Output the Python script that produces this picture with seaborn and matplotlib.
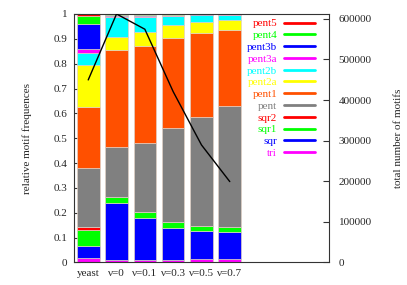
# coding: utf-8

import numpy as np
import pandas as pd
import matplotlib
matplotlib.use('Agg')
import matplotlib.pyplot as plt
import seaborn as sns

# Data

datasets = ['yeast', 'ν=0', 'ν=0.1', 'ν=0.3', 'ν=0.5', 'ν=0.7']

motifs = ['tri', 'sqr', 'sqr1', 'sqr2', 'pent', 'pent1',
          'pent2a', 'pent2b', 'pent3a', 'pent3b', 'pent4', 'pent5']

colors = ['#ff00ff', '#0000ff', '#00ff00', '#ff0000', '#808080', '#ff5000',
          '#ffff00', '#00ffff', '#ff00ff', '#0000ff', '#00ff00', '#ff0000']

# cumulative tops of each stacked segment
tri = [0.018, 0.008, 0.010, 0.012, 0.013, 0.015]
sqr = [0.067, 0.240, 0.177, 0.139, 0.128, 0.122]
sqr1 = [0.131, 0.264, 0.202, 0.163, 0.148, 0.143]
sqr2 = [0.142, 0.264, 0.202, 0.163, 0.148, 0.143]
pent = [0.380, 0.465, 0.480, 0.541, 0.587, 0.630]
pent1 = [0.627, 0.855, 0.871, 0.902, 0.922, 0.937]
pent2a = [0.796, 0.907, 0.928, 0.955, 0.967, 0.976]
pent2b = [0.844, 0.987, 0.987, 0.993, 0.996, 0.997]
pent3a = [0.860, 0.992, 0.992, 0.994, 0.997, 0.998]
pent3b = [0.961, 0.996, 0.996, 0.997, 0.999, 0.999]
pent4 = [0.993, 0.998, 0.998, 0.998, 0.9995, 0.9995]
pent5 = [1.0, 1.0, 1.0, 1.0, 1.0, 1.0]

total_motifs = [449600, 612000, 574400, 420800, 289500, 199200]

# Setup

sns.set_theme(style='white')
plt.rcParams['font.family'] = ['Liberation Serif', 'DejaVu Serif']
plt.rcParams['font.size'] = 8

tops = np.array([tri, sqr, sqr1, sqr2, pent, pent1, pent2a, pent2b,
                 pent3a, pent3b, pent4, pent5])
heights = np.diff(np.vstack([np.zeros(len(datasets)), tops]), axis=0)

fig = plt.figure(figsize=(4.07, 2.85), dpi=100)
ax = fig.add_axes([0.182, 0.079, 0.626, 0.872])

xpos = np.arange(len(datasets))
bottom = np.zeros(len(datasets))
for name, h, c in zip(motifs, heights, colors):
    ax.bar(xpos, h, bottom=bottom, width=0.8, color=c,
           edgecolor='#e0cfc4', linewidth=0.5, label=name, zorder=2)
    bottom = bottom + h

ax.set_xlim(-0.5, 8.5)
ax.set_ylim(0, 1)
ax.set_xticks(xpos)
ax.set_xticklabels(datasets, fontsize=8)
ax.set_yticks(np.arange(0, 1.01, 0.1))
ax.set_yticklabels(['0', '0.1', '0.2', '0.3', '0.4', '0.5', '0.6', '0.7',
                    '0.8', '0.9', '1'], fontsize=8)
ax.tick_params(axis='x', length=0, pad=5)
ax.tick_params(axis='y', direction='in', length=4, width=0.8, pad=5,
               right=True, color='#333333')
ax.set_ylabel('relative motif frequences', fontsize=8, labelpad=15)
for s in ax.spines.values():
    s.set_color('#333333')
    s.set_linewidth(0.8)

# legend: line samples to the right of right-aligned, coloured labels
legend_handles = [plt.Line2D([], [], color=c, lw=2) for c in colors[::-1]]
leg = ax.legend(legend_handles, motifs[::-1], loc='upper right',
                bbox_to_anchor=(0.945, 0.981), frameon=False, markerfirst=False,
                handlelength=2.8, handletextpad=0.6, labelspacing=0.18,
                borderaxespad=0, borderpad=0, fontsize=8)
for txt, c in zip(leg.get_texts(), colors[::-1]):
    txt.set_color(c)

# total number of motifs on the second axis
ax2 = ax.twinx()
line_df = pd.DataFrame({'x': xpos, 'total': total_motifs})
sns.lineplot(data=line_df, x='x', y='total', ax=ax2, color='black', lw=1)
ax2.set_ylim(0, 612000)
ax2.set_xlim(-0.5, 8.5)
ax2.set_yticks(np.arange(0, 600001, 100000))
ax2.set_yticklabels([str(v) for v in range(0, 600001, 100000)], fontsize=8)
ax2.tick_params(axis='y', direction='in', length=4, width=0.8, pad=7,
                color='#333333')
ax2.set_ylabel('total number of motifs', fontsize=8, labelpad=16)
ax2.set_xlabel('')
for s in ax2.spines.values():
    s.set_visible(False)

plt.savefig('out.png', dpi=100)
plt.close()
